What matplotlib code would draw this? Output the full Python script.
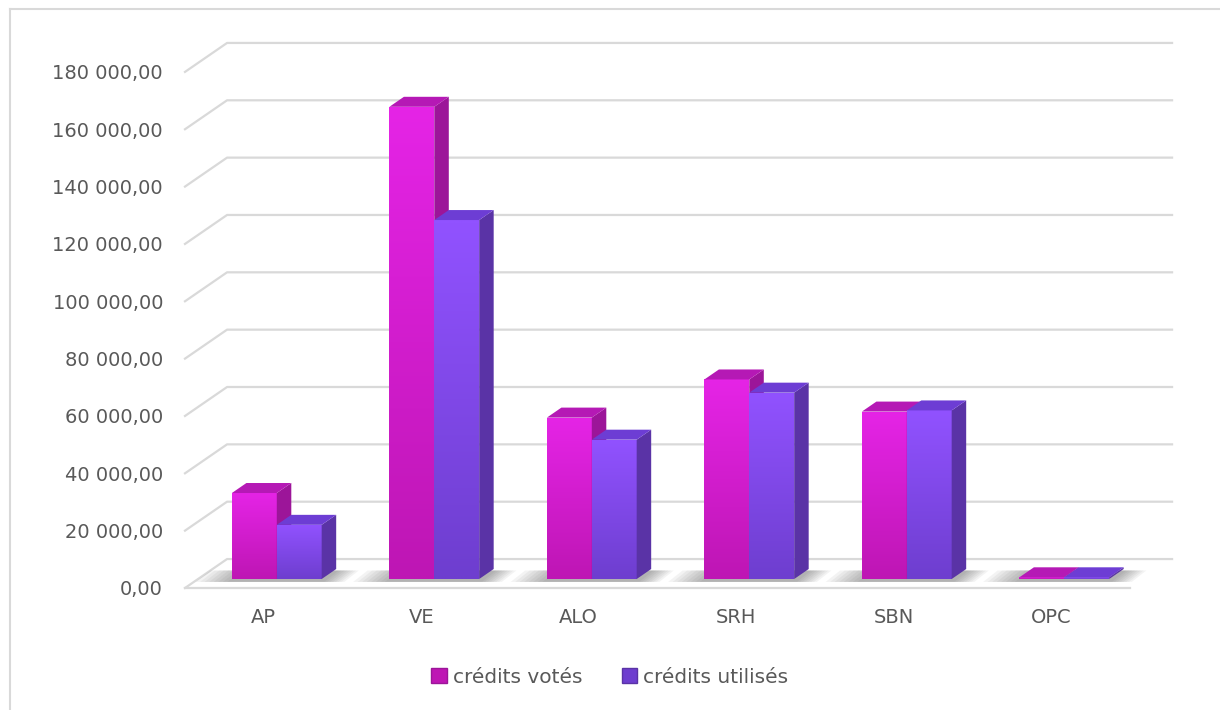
import numpy as np
import matplotlib.pyplot as plt
from matplotlib.patches import Polygon, Patch
from matplotlib.lines import Line2D
from matplotlib.colors import to_rgb

# données
categories = ['AP', 'VE', 'ALO', 'SRH', 'SBN', 'OPC']
credits_votes = [30000, 164700, 56300, 69600, 58400, 600]
credits_utilises = [18900, 125200, 48600, 65000, 58800, 600]
series_names = ['crédits votés', 'crédits utilisés']
yticks = np.arange(0, 180001, 20000)

# faux 3D : décalage de profondeur (unités catégorie / valeur)
DX, DY = 0.267, 10100
D0, D1 = 0.31, 0.655
BW = 0.285
XL, XR = -0.5, len(categories) - 0.5

# couleurs : face avant haut, face avant bas, côté, dessus
styles = [
    ('#E524E6', '#BE16B4', '#9C1599', '#B519B5'),
    ('#9152FF', '#6E3ECF', '#5A33A6', '#6D3DD4'),
]
grid_col = '#D9D9D9'
text_col = '#595959'

fig = plt.figure(figsize=(12.2, 7.1), dpi=100)
ax = fig.add_axes([0.13873, 0.15972, 0.82623, 0.78747])

# quadrillage (mur du fond + diagonale gauche)
for v in yticks:
    ax.plot([XL, XL + DX, XR + DX], [v, v + DY, v + DY], color=grid_col, lw=1.6, zorder=1)
ax.plot([XL, XR], [0, 0], color=grid_col, lw=1.6, zorder=1)

dd = D1 - D0
series = [credits_votes, credits_utilises]

for i in range(len(categories)):
    # ombre douce sur le sol
    xl = i + DX * D0 - BW
    xr = i + DX * D0 + BW
    for k in range(1, 9):
        e = 0.018 * k
        ax.add_patch(Polygon([(xl - 1.6 * e, DY * (D0 - 0.1)), (xr + e, DY * (D0 - 0.1)),
                              (xr + e + DX * dd, DY * (D1 - 0.05)), (xl - 1.6 * e + DX * dd, DY * (D1 - 0.05))],
                             closed=True, facecolor='#404040', edgecolor='none', alpha=0.06, zorder=2))
    for s, vals in enumerate(series):
        v = vals[i]
        top_c, bot_c, side_c, lid_c = styles[s]
        x0 = i + DX * D0 + (s - 1) * BW
        y0 = DY * D0
        # face avant en dégradé
        grad = np.linspace(to_rgb(top_c), to_rgb(bot_c), 64).reshape(64, 1, 3)
        face = Polygon([(x0, y0), (x0 + BW, y0), (x0 + BW, y0 + v), (x0, y0 + v)],
                       closed=True, facecolor='none', edgecolor='none')
        ax.add_patch(face)
        im = ax.imshow(grad, extent=[x0, x0 + BW, y0, y0 + v], aspect='auto',
                       interpolation='bilinear', zorder=3 + s)
        im.set_clip_path(face)
        # côté droit
        ax.add_patch(Polygon([(x0 + BW, y0), (x0 + BW, y0 + v),
                              (x0 + BW + DX * dd, y0 + v + DY * dd), (x0 + BW + DX * dd, y0 + DY * dd)],
                             closed=True, facecolor=side_c, edgecolor='none', zorder=3 + s))
        # dessus
        ax.add_patch(Polygon([(x0, y0 + v), (x0 + BW, y0 + v),
                              (x0 + BW + DX * dd, y0 + v + DY * dd), (x0 + DX * dd, y0 + v + DY * dd)],
                             closed=True, facecolor=lid_c, edgecolor='none', zorder=3 + s))

ax.set_xlim(-0.6, 5.8)
ax.set_ylim(-3000, 192000)

ax.set_yticks(yticks)
ax.set_yticklabels([f'{v:,.2f}'.replace(',', ' ').replace('.', ',') for v in yticks])
ax.set_xticks(range(len(categories)))
ax.set_xticklabels(categories)
ax.tick_params(axis='y', length=0, pad=4.5, labelsize=14, labelcolor=text_col)
ax.tick_params(axis='x', length=0, pad=8, labelsize=14, labelcolor=text_col)
for sp in ax.spines.values():
    sp.set_visible(False)

handles = [Patch(facecolor=styles[s][1], edgecolor=styles[s][2], lw=1) for s in range(2)]
fig.legend(handles, series_names, loc='center', bbox_to_anchor=(0.5, 0.046), ncol=2,
           frameon=False, handlelength=0.75, handleheight=0.75, handletextpad=0.3,
           columnspacing=2.0, prop={'size': 14.5}, labelcolor=text_col)

# cadre du graphique
fig.add_artist(Line2D([10 / 1220, 10 / 1220], [0, 1 - 9 / 710], color=grid_col, lw=1.5))
fig.add_artist(Line2D([10 / 1220, 1], [1 - 9 / 710, 1 - 9 / 710], color=grid_col, lw=1.5))

fig.savefig('out.png', dpi=100, facecolor='white')
